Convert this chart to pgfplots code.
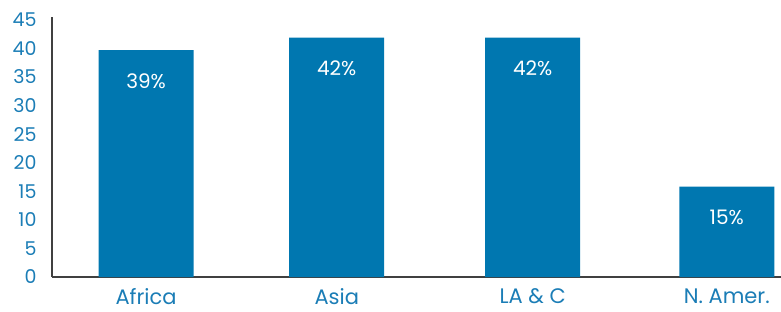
\documentclass[border=0pt]{standalone}
\usepackage{fontspec}
\setmainfont{Poppins}
\usepackage{pgfplots}
\pgfplotsset{compat=1.18}
\usetikzlibrary{calc}
\definecolor{barblue}{HTML}{0077B0}
\definecolor{tickblue}{HTML}{1B7DB6}
\definecolor{axgray}{HTML}{404040}
\begin{document}
\begin{tikzpicture}
\begin{axis}[
  name=ax,
  scale only axis,
  width=729bp, height=260bp,
  xmin=-0.486, xmax=3.28,
  ymin=0, ymax=45.5,
  axis x line*=bottom, axis y line*=left,
  axis line style={axgray, line width=1.2bp, -},
  ytick={0,5,...,45},
  xtick={0,0.985,1.997,3},
  xticklabels={Africa, Asia, LA \& C, N. Amer.},
  major tick length=0pt,
  tick label style={text=tickblue},
  yticklabel style={font=\fontsize{19bp}{22bp}\selectfont, xshift=-12bp},
  xticklabel style={font=\fontsize{21bp}{24bp}\selectfont, yshift=-8bp},
  /pgf/number format/assume math mode=true,
  ybar, bar width=95bp,
  nodes near coords,
  point meta=explicit symbolic,
  every node near coord/.style={anchor=center, yshift=-31bp, text=white, font=\fontsize{20bp}{23bp}\selectfont},
  clip=false,
]
\addplot[fill=barblue, draw=none] coordinates {(0,39.7) [39\%] (0.985,41.9) [42\%] (1.997,41.9) [42\%] (3,15.8) [15\%]};
\end{axis}
\pgfresetboundingbox
\path ($(ax.south west)+(-52bp,-35bp)$) rectangle ($(ax.north east)+(0,17bp)$);
\end{tikzpicture}
\end{document}
